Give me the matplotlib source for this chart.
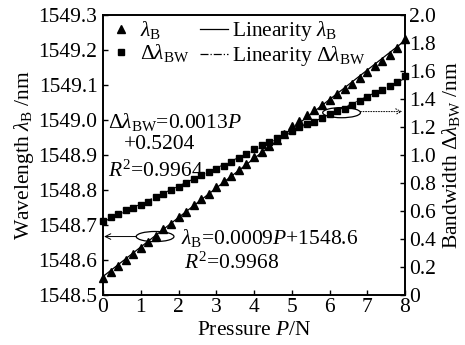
import numpy as np
import matplotlib
matplotlib.use("Agg")
import matplotlib.pyplot as plt
from matplotlib.patches import Ellipse
from matplotlib.lines import Line2D

plt.rcParams['font.family'] = ['Liberation Serif', 'DejaVu Serif']
plt.rcParams['mathtext.fontset'] = 'custom'
plt.rcParams['mathtext.rm'] = 'Liberation Serif'
plt.rcParams['mathtext.it'] = 'Liberation Serif:italic'
plt.rcParams['mathtext.bf'] = 'Liberation Serif:bold'

# ---- data ----
pressure = [0.0, 0.2, 0.4, 0.6, 0.8, 1.0, 1.2, 1.4, 1.6, 1.8,
            2.0, 2.2, 2.4, 2.6, 2.8, 3.0, 3.2, 3.4, 3.6, 3.8,
            4.0, 4.2, 4.4, 4.6, 4.8, 5.0, 5.2, 5.4, 5.6, 5.8,
            6.0, 6.2, 6.4, 6.6, 6.8, 7.0, 7.2, 7.4, 7.6, 7.8, 8.0]
lambda_b = [1548.549, 1548.565, 1548.583, 1548.600, 1548.618, 1548.635, 1548.652,
            1548.669, 1548.688, 1548.704, 1548.722, 1548.738, 1548.756, 1548.774,
            1548.790, 1548.808, 1548.825, 1548.840, 1548.858, 1548.875, 1548.895,
            1548.910, 1548.926, 1548.944, 1548.961, 1548.982, 1548.998, 1549.015,
            1549.030, 1549.044, 1549.058, 1549.075, 1549.090, 1549.104, 1549.120,
            1549.137, 1549.153, 1549.170, 1549.186, 1549.207, 1549.232]
bandwidth = [0.529, 0.555, 0.579, 0.605, 0.619, 0.643, 0.666, 0.698, 0.721, 0.750,
             0.774, 0.802, 0.826, 0.860, 0.878, 0.898, 0.921, 0.952, 0.976, 1.007,
             1.041, 1.071, 1.095, 1.124, 1.148, 1.174, 1.202, 1.219, 1.238, 1.262,
             1.291, 1.314, 1.329, 1.357, 1.386, 1.416, 1.441, 1.464, 1.493, 1.519, 1.562]
left_ticks = [1548.5, 1548.6, 1548.7, 1548.8, 1548.9, 1549.0, 1549.1, 1549.2, 1549.3]
right_ticks = [0, 0.2, 0.4, 0.6, 0.8, 1.0, 1.2, 1.4, 1.6, 1.8, 2.0]
right_tick_labels = ['0', '0.2', '0.4', '0.6', '0.8', '1.0', '1.2', '1.4', '1.6', '1.8', '2.0']
x_ticks = [0, 1, 2, 3, 4, 5, 6, 7, 8]

FS = 15.5

fig = plt.figure(figsize=(4.65, 3.45), dpi=100)
ax = fig.add_axes([103/465, 50/345, 302/465, 280/345])
ax2 = ax.twinx()

p = np.array(pressure)
lb = np.array(lambda_b)
bw = np.array(bandwidth)

c1 = np.polyfit(p, lb, 1)
c2 = np.polyfit(p, bw, 1)
px = np.array([0.0, 8.0])

ax.plot(px, np.polyval(c1, px), '-', color='black', lw=0.9)
ax.plot(p, lb, linestyle='none', marker='^', ms=5.4, color='black', clip_on=False)
ax2.plot(px, np.polyval(c2, px), '-.', color='black', lw=0.8)
ax2.plot(p, bw, linestyle='none', marker='s', ms=4.5, color='black', clip_on=False)

ax.set_xlim(0, 8)
ax.set_ylim(1548.5, 1549.3)
ax2.set_ylim(0, 2.0)
ax.set_xticks(x_ticks)
ax.set_yticks(left_ticks)
ax.set_yticklabels(['%.1f' % v for v in left_ticks])
ax2.set_yticks(right_ticks)
ax2.set_yticklabels(right_tick_labels)

for a in (ax, ax2):
    a.tick_params(direction='in', length=3.5, width=1, labelsize=FS)
    for s in a.spines.values():
        s.set_linewidth(1.2)
ax.tick_params(axis='y', pad=4)
ax.tick_params(axis='x', pad=2)
ax2.tick_params(axis='y', pad=3)

ax.set_xlabel(r'Pressure $P$/N', fontsize=FS, labelpad=3)
ax.set_ylabel(r'Wavelength $\lambda_{\rm B}$ /nm', fontsize=FS, labelpad=2)
ax2.set_ylabel(r'Bandwidth $\Delta\lambda_{\rm BW}$ /nm', fontsize=FS, labelpad=3)

# annotations
ax.text(0.12, 1548.993, r'$\Delta\lambda_{\rm BW}$=0.0013$P$', fontsize=FS, va='center', ha='left')
ax.text(0.55, 1548.930, '+0.5204', fontsize=FS, va='center', ha='left')
ax.text(0.12, 1548.855, r'$R^2$=0.9964', fontsize=FS, va='center', ha='left')
ax.text(2.06, 1548.664, r'$\lambda_{\rm B}$=0.0009$P$+1548.6', fontsize=FS, va='center', ha='left')
ax.text(2.14, 1548.592, r'$R^2$=0.9968', fontsize=FS, va='center', ha='left')

ax.add_patch(Ellipse((1.38, 1548.667), 1.0, 0.029, fill=False, lw=0.9, color='black'))
ax.add_patch(Ellipse((6.32, 1549.021), 1.0, 0.029, fill=False, lw=0.9, color='black'))
ax.annotate('', xy=(0.03, 1548.667), xytext=(0.88, 1548.667),
            arrowprops=dict(arrowstyle='->', lw=0.7, color='black', shrinkA=0, shrinkB=0))
ax.annotate('', xy=(7.93, 1549.024), xytext=(6.82, 1549.024),
            arrowprops=dict(arrowstyle='->', lw=0.7, color='black', linestyle=':', shrinkA=0, shrinkB=0))

handles = [Line2D([], [], linestyle='none', marker='^', ms=5.4, color='black'),
           Line2D([], [], linestyle='none', marker='s', ms=4.5, color='black'),
           Line2D([], [], linestyle='-', lw=0.9, color='black'),
           Line2D([], [], linestyle='-.', lw=0.9, color='black')]
labels = [r'$\lambda_{\rm B}$', r'$\Delta\lambda_{\rm BW}$',
          r'Linearity $\lambda_{\rm B}$', r'Linearity $\Delta\lambda_{\rm BW}$']
ax2.legend(handles, labels, loc='upper left', bbox_to_anchor=(0.0, 1.0), ncol=2,
           frameon=False, fontsize=FS, handlelength=1.3, handletextpad=0.2,
           columnspacing=0.5, labelspacing=0.05, borderaxespad=0.05, borderpad=0.15)

fig.savefig('out.png', dpi=100)
